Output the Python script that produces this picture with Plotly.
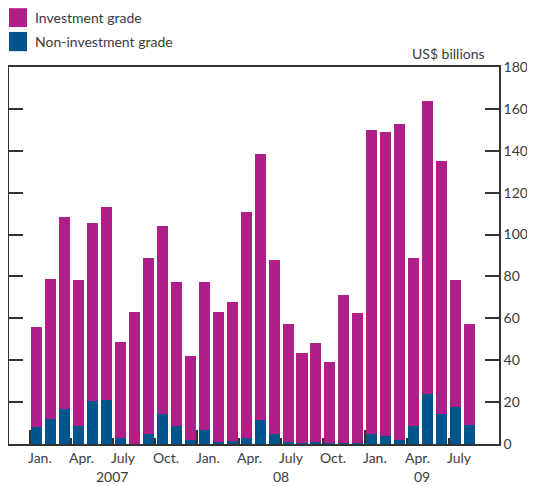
import plotly.graph_objects as go

months = ["Jan07","Feb07","Mar07","Apr07","May07","Jun07","Jul07","Aug07","Sep07","Oct07","Nov07","Dec07",
          "Jan08","Feb08","Mar08","Apr08","May08","Jun08","Jul08","Aug08","Sep08","Oct08","Nov08","Dec08",
          "Jan09","Feb09","Mar09","Apr09","May09","Jun09","Jul09","Aug09"]
non_investment = [8, 12, 16.5, 8.5, 20.5, 21, 3, 0, 5, 14.5, 8.5, 2,
                  6.5, 1, 1.5, 3, 11.5, 5, 1, 0.5, 1, 0.5, 0.5, 0.5,
                  5, 4, 2, 8.5, 24, 14.5, 17.5, 9]
investment = [48, 67, 92, 70, 85, 92, 45.5, 63, 84, 89.5, 69, 40,
              71, 62, 66.5, 108, 127, 83, 56.5, 43, 47, 38.5, 70.5, 62,
              145, 145, 151, 80.5, 140, 120.5, 61, 48.5]
month_labels = ["Jan.", "Apr.", "July", "Oct."] * 3
month_label_idx = [0, 3, 6, 9, 12, 15, 18, 21, 24, 27, 30]
year_labels = ["2007", "08", "09"]
year_label_pos = [5.4, 17.5, 27.6]

MAG = "#B01E87"
BLUE = "#00568C"
TXT = "#3a3a3a"
AX = "#333333"
FONT = "Lato"

x = list(range(len(months)))
fig = go.Figure()
fig.add_bar(x=x, y=non_investment, marker_color=BLUE, marker_line_width=0, name="Non-investment grade")
fig.add_bar(x=x, y=investment, marker_color=MAG, marker_line_width=0, name="Investment grade")
fig.add_scatter(x=[0], y=[0], yaxis="y2", mode="markers", marker_opacity=0, showlegend=False, hoverinfo="skip")

fig.update_layout(
    width=527, height=478,
    margin=dict(l=1, r=36, t=59, b=42, autoexpand=False),
    barmode="stack", bargap=0.21,
    showlegend=False,
    plot_bgcolor="white", paper_bgcolor="white",
    font=dict(family=FONT, size=14, color=TXT),
    xaxis=dict(range=[-1.97, 33.1], showgrid=False, zeroline=False,
               showline=True, linecolor=AX, linewidth=1.5, mirror=True,
               tickmode="array", tickvals=[-0.5, 11.5, 23.5], ticktext=["", "", ""],
               ticks="inside", ticklen=14, tickcolor=AX, tickwidth=1.5,
               minor=dict(tickmode="array", tickvals=[2.5, 5.5, 8.5, 14.5, 17.5, 20.5, 26.5, 29.5],
                          ticks="inside", ticklen=6, tickcolor=AX, tickwidth=1.5)),
    yaxis=dict(range=[0, 180], showgrid=False, zeroline=False,
               showline=True, linecolor=AX, linewidth=1.5,
               tickvals=list(range(0, 181, 20)), ticks="inside", ticklen=14,
               tickcolor=AX, tickwidth=1.5, showticklabels=False),
    yaxis2=dict(range=[0, 180], overlaying="y", side="right", showgrid=False, zeroline=False,
                showline=True, linecolor=AX, linewidth=1.5,
                tickvals=list(range(0, 181, 20)), ticks="inside", ticklen=14,
                tickcolor=AX, tickwidth=1.5, tickfont=dict(size=14, color=TXT)),
)

ann = []
for lab, i in zip(month_labels, month_label_idx):
    ann.append(dict(x=i + 0.25, y=-0.037, xref="x", yref="paper", text=lab, showarrow=False,
                    xanchor="center", yanchor="middle", font=dict(size=14, color=TXT)))
for lab, p in zip(year_labels, year_label_pos):
    ann.append(dict(x=p, y=-0.0875, xref="x", yref="paper", text=lab, showarrow=False,
                    xanchor="center", yanchor="middle", font=dict(size=14, color=TXT)))
ann.append(dict(x=0.9755, y=1.037, xref="paper", yref="paper", text="US$ billions", showarrow=False,
                xanchor="right", yanchor="middle", font=dict(size=14, color=TXT)))
ann.append(dict(x=0.049, y=1.131, xref="paper", yref="paper", text="Investment grade", showarrow=False,
                xanchor="left", yanchor="middle", font=dict(size=14, color=TXT)))
ann.append(dict(x=0.049, y=1.068, xref="paper", yref="paper", text="Non-investment grade", showarrow=False,
                xanchor="left", yanchor="middle", font=dict(size=14, color=TXT)))
fig.update_layout(annotations=ann)

fig.update_layout(shapes=[
    dict(type="rect", xref="paper", yref="paper", x0=0, x1=0.0367, y0=1.106, y1=1.156,
         fillcolor=MAG, line_width=0),
    dict(type="rect", xref="paper", yref="paper", x0=0, x1=0.0367, y0=1.042, y1=1.093,
         fillcolor=BLUE, line_width=0),
])

fig.write_html("out.html")
